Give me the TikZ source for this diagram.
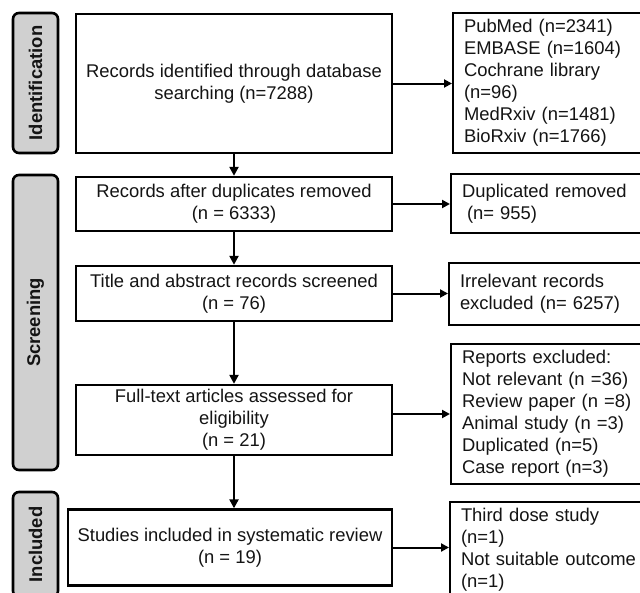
\documentclass[tikz,border=0pt]{standalone}
\usepackage{fontspec}
\setmainfont{Liberation Sans}
\usetikzlibrary{arrows.meta}
\definecolor{tabgray}{RGB}{208,208,208}
\definecolor{ink}{RGB}{20,20,20}
\tikzset{
  box/.style={draw=black, line width=2.4pt, fill=white, inner sep=0pt, text=ink,
    align=center, font=\fontsize{18.4}{22}\selectfont},
  sidebox/.style={draw=black, line width=2pt, fill=white, inner ysep=0pt, text=ink,
    inner xsep=11pt, align=left, font=\fontsize{18.4}{22}\selectfont},
  phase/.style={draw=black, line width=2.6pt, fill=tabgray, rounded corners=6pt,
    inner sep=0pt, rotate=90, text=ink,
    font=\bfseries\fontsize{18.4}{22}\selectfont},
  flow/.style={line width=2.4pt, -{Triangle[length=9pt,width=9pt]}},
  side/.style={line width=2pt, -{Triangle[length=8pt,width=8pt]}}
}
\begin{document}
\begin{tikzpicture}[x=1pt,y=-1pt]
\useasboundingbox (0,0) rectangle (640,592);
\clip (0,0) rectangle (640,592);

% phase tabs on the left
\node[phase, minimum height=45, minimum width=140] (idtab) at (35.5,83) {Identification};
\node[phase, minimum height=45, minimum width=295] (sctab) at (35.5,322.5) {Screening};
\node[phase, minimum height=45, minimum width=105] (intab) at (35.5,544.5) {Included};

% main flow boxes
\node[box, minimum width=316, minimum height=139] (b1) at (234,83.5)
  {Records identified through database\\searching (n=7288)};
\node[box, minimum width=316, minimum height=54] (b2) at (234,204)
  {Records after duplicates removed\\(n = 6333)};
\node[box, minimum width=316, minimum height=55] (b3) at (234,293.5)
  {Title and abstract records screened\\(n = 76)};
\node[box, minimum width=316, minimum height=70] (b4) at (234,420)
  {Full-text articles assessed for\\eligibility\\(n = 21)};
\node[box, minimum width=324, minimum height=76] (b5) at (230,547.5)
  {Studies included in systematic review\\(n = 19)};

% side boxes on the right
\node[sidebox, text width=186, minimum height=140, anchor=west] (r1) at (452,83)
  {PubMed (n=2341)\\EMBASE (n=1604)\\Cochrane library\\(n=96)\\MedRxiv (n=1481)\\BioRxiv (n=1766)};
\node[sidebox, text width=190, minimum height=59, anchor=west] (r2) at (450,203.5)
  {Duplicated removed\\\hspace*{5pt}(n= 955)};
\node[sidebox, text width=192, minimum height=62, anchor=west] (r3) at (448,294)
  {Irrelevant records\\excluded (n= 6257)};
\node[sidebox, text width=190, minimum height=140, anchor=west] (r4) at (450,414)
  {Reports excluded:\\Not relevant (n =36)\\Review paper (n =8)\\Animal study (n =3)\\Duplicated (n=5)\\Case report (n=3)};
\node[sidebox, text width=191, minimum height=95, anchor=west] (r5) at (449,549.5)
  {Third dose study\\(n=1)\\Not suitable outcome\\(n=1)};

% vertical flow
\draw[flow] (b1.south) -- (b2.north);
\draw[flow] (b2.south) -- (b3.north);
\draw[flow] (b3.south) -- (b4.north);
\draw[flow] (b4.south) -- (b4.south |- b5.north);

% exclusions to the side
\draw[side] (b1.east) -- (b1.east -| r1.west);
\draw[side] (b2.east) -- (b2.east -| r2.west);
\draw[side] (b3.east) -- (b3.east -| r3.west);
\draw[side] (r4.west -| b4.east) -- (r4.west);
\draw[side] (b5.east) -- (b5.east -| r5.west);
\end{tikzpicture}
\end{document}
